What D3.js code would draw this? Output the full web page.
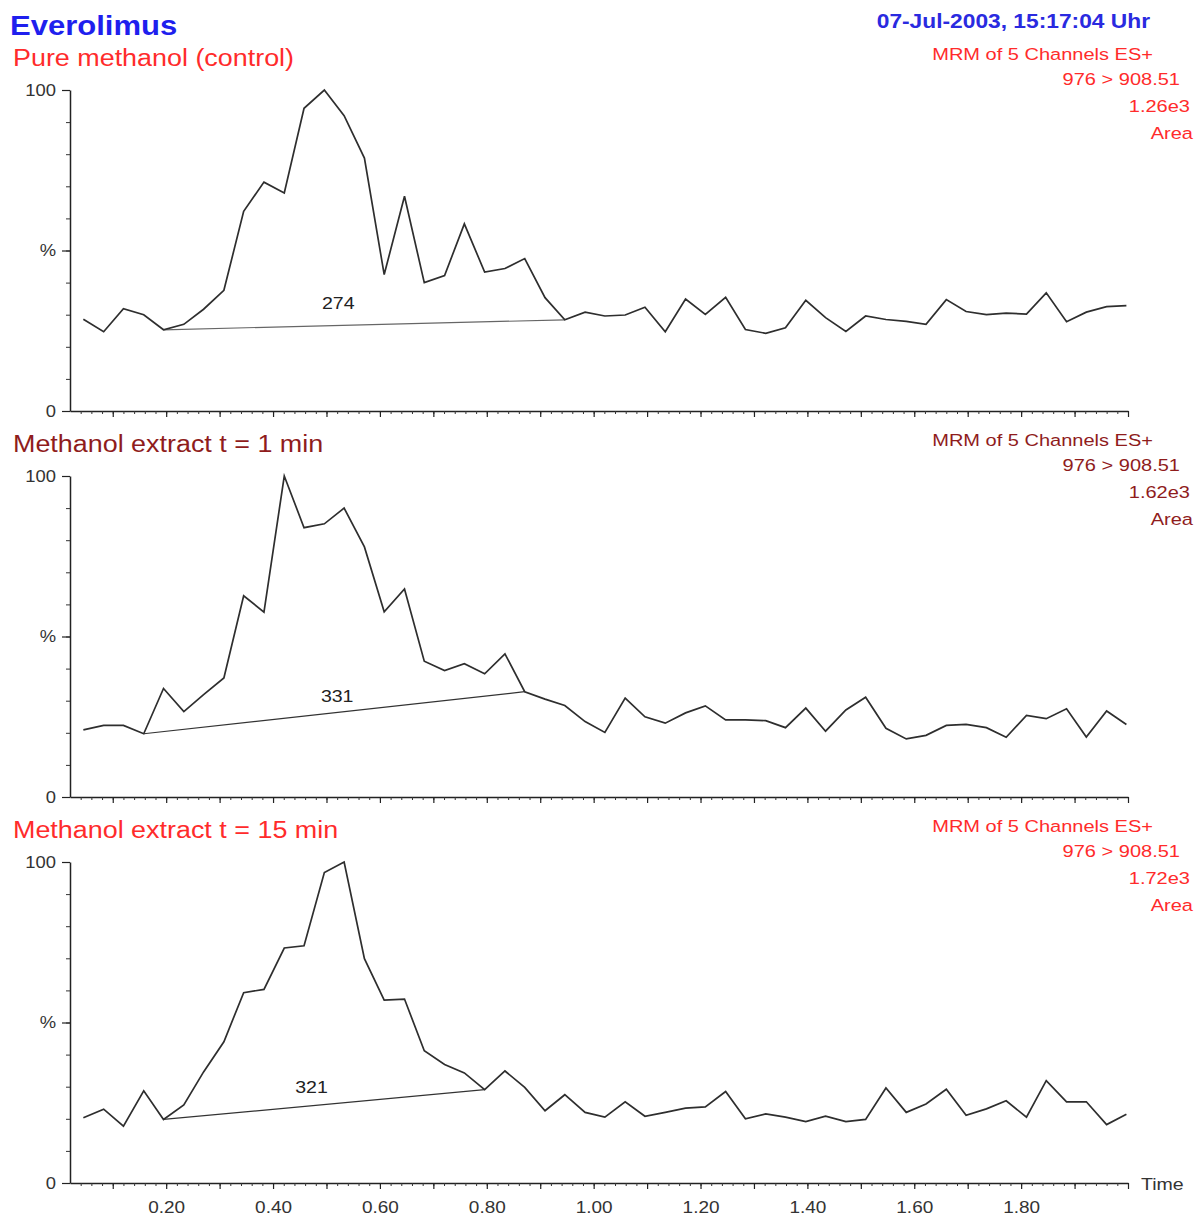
<!DOCTYPE html>
<html lang="de">
<head>
<meta charset="UTF-8" />
<title>Everolimus MRM</title>
<script src="https://cdnjs.cloudflare.com/ajax/libs/d3/7.8.5/d3.min.js"></script>
<style>
  * { margin: 0; padding: 0; }
  body { background: #fff; }
  svg { display: block; font-family: 'Liberation Sans', Arial, sans-serif; }
</style>
</head>
<body>
<svg id="chart" width="1197" height="1216"></svg>
<script>
  // retention times (min), one scan per point
  const times = [0.045, 0.083, 0.120, 0.158, 0.195, 0.233, 0.270, 0.308, 0.345, 0.383,
    0.421, 0.458, 0.496, 0.533, 0.571, 0.608, 0.646, 0.683, 0.721, 0.758,
    0.796, 0.834, 0.871, 0.909, 0.946, 0.984, 1.021, 1.059, 1.096, 1.134,
    1.172, 1.209, 1.247, 1.284, 1.322, 1.359, 1.397, 1.434, 1.472, 1.509,
    1.547, 1.585, 1.622, 1.660, 1.697, 1.735, 1.772, 1.810, 1.847, 1.885,
    1.922, 1.960, 1.997];

  // relative intensity (%) per trace
  const controlPct = [28.6, 24.7, 31.9, 30.0, 25.3, 27.0, 31.7, 37.6, 62.2, 71.3,
    67.9, 94.3, 100, 92.0, 78.8, 42.5, 66.9, 40.0, 42.2, 58.3,
    43.3, 44.4, 47.5, 35.3, 28.4, 30.8, 29.6, 29.9, 32.3, 24.7,
    34.9, 30.1, 35.4, 25.4, 24.2, 25.9, 34.5, 29.1, 24.8, 29.6,
    28.5, 27.9, 27.0, 34.7, 31.0, 30.0, 30.5, 30.2, 36.8, 27.8,
    30.8, 32.5, 32.8];
  const min1Pct = [20.9, 22.3, 22.3, 19.7, 33.8, 26.6, 31.9, 37.1, 62.7, 57.6,
    100, 83.9, 85.1, 90.0, 77.9, 57.7, 64.8, 42.3, 39.4, 41.5,
    38.4, 44.6, 32.8, 30.5, 28.5, 23.5, 20.1, 30.8, 25.0, 23.0,
    26.2, 28.4, 24.0, 24.0, 23.8, 21.6, 27.7, 20.5, 27.1, 31.1,
    21.4, 18.1, 19.2, 22.3, 22.6, 21.6, 18.6, 25.4, 24.4, 27.5,
    18.7, 26.8, 22.6];
  const min15Pct = [20.3, 23.0, 17.7, 28.7, 19.8, 24.3, 34.6, 44.0, 59.3, 60.3,
    73.2, 73.9, 96.7, 100, 69.9, 57.0, 57.3, 41.2, 36.9, 34.3,
    29.1, 34.9, 29.8, 22.5, 27.5, 22.0, 20.5, 25.3, 20.8, 22.0,
    23.3, 23.7, 28.5, 20.0, 21.5, 20.5, 19.1, 20.8, 19.1, 19.8,
    29.6, 22.0, 24.6, 29.2, 21.1, 23.1, 25.6, 20.5, 31.9, 25.3,
    25.3, 18.2, 21.4];

  const panelTitles = ["Pure methanol (control)", "Methanol extract t = 1 min", "Methanol extract t = 15 min"];
  const titleColors = ["#ff2b2b", "#8f1c1c", "#ff2b2b"];
  const channelLines = ["MRM of 5 Channels ES+", "976 > 908.51"];
  const maxCounts = ["1.26e3", "1.62e3", "1.72e3"];
  const peakAreas = ["274", "331", "321"];
  const peakStart = [4, 3, 4];     // scan index where integration starts
  const peakEnd = [24, 22, 20];    // scan index where integration ends
  const areaLabelTime = [0.522, 0.520, 0.472];
  const areaLabelPct = [31.8, 29.6, 28.0];
  const xLabelTicks = [0.2, 0.4, 0.6, 0.8, 1.0, 1.2, 1.4, 1.6, 1.8];
  const xLabelText = ["0.20", "0.40", "0.60", "0.80", "1.00", "1.20", "1.40", "1.60", "1.80"];
  const yLabelTicks = [0, 50, 100];
  const yLabelText = ["0", "%", "100"];

  const traces = [controlPct, min1Pct, min15Pct];

  const SX = 1.15;      // the printout is a bit wide, stretch text to match
  const STEP = 386;     // vertical distance between panels
  const svg = d3.select("#chart");

  const x = d3.scaleLinear().domain([0.02, 2.0]).range([70, 1128]);

  function label(g, px, py, str, size, color, anchor, weight) {
    return g.append("text")
      .attr("transform", `translate(${px},${py}) scale(${SX},1)`)
      .attr("font-size", size)
      .attr("fill", color)
      .attr("text-anchor", anchor || "start")
      .attr("font-weight", weight || "normal")
      .text(str);
  }

  // stretch axis tick labels around their own anchor
  function stretchTicks(sel) {
    sel.selectAll(".tick text").each(function() {
      const t = d3.select(this);
      const tx = +t.attr("x") || 0, ty = +t.attr("y") || 0;
      t.attr("x", 0).attr("y", 0).attr("transform", `translate(${tx},${ty}) scale(${SX},1)`);
    });
  }

  // header
  label(svg, 10, 35, "Everolimus", 27, "#1f1fee", "start", "bold");
  label(svg, 1150, 28, "07-Jul-2003, 15:17:04 Uhr", 19.8, "#2a2ae0", "end", "bold");

  traces.forEach((pct, k) => {
    const off = STEP * k;
    const g = svg.append("g");
    const y = d3.scaleLinear().domain([0, 100]).range([411 + off, 90 + off]);

    label(g, 13, 66 + off, panelTitles[k], 23.4, titleColors[k]);
    label(g, 1153, 60 + off, channelLines[0], 17.4, titleColors[k], "end");
    label(g, 1180, 85 + off, channelLines[1], 17.4, titleColors[k], "end");
    label(g, 1190, 112 + off, maxCounts[k], 17.4, titleColors[k], "end");
    label(g, 1193, 139 + off, "Area", 17.4, titleColors[k], "end");

    // x axis: minor every 0.02, major every 0.1
    g.append("g")
      .attr("transform", `translate(0,${y(0)})`)
      .call(d3.axisBottom(x).tickValues(d3.range(0.04, 2.0001, 0.02)).tickSize(3).tickSizeOuter(0).tickFormat(""))
      .call(a => a.selectAll("line").attr("stroke", "#333"))
      .call(a => a.select(".domain").attr("stroke", "#222").attr("stroke-width", 1.5));
    const major = g.append("g")
      .attr("transform", `translate(0,${y(0)})`)
      .call(d3.axisBottom(x).tickValues(d3.range(0.1, 2.0001, 0.1)).tickSize(6).tickSizeOuter(0).tickFormat(""));
    major.select(".domain").remove();
    major.selectAll("line").attr("stroke", "#222").attr("stroke-width", 1.2);

    if (k === traces.length - 1) {
      const lab = g.append("g")
        .attr("transform", `translate(0,${y(0)})`)
        .call(d3.axisBottom(x).tickValues(xLabelTicks).tickSize(0).tickPadding(18)
          .tickFormat((d, i) => xLabelText[i]));
      lab.select(".domain").remove();
      lab.selectAll("text").attr("font-size", 16.5).attr("fill", "#333")
        .attr("font-family", "'Liberation Sans', Arial, sans-serif");
      stretchTicks(lab);
      label(g, 1141, y(0) + 7, "Time", 17, "#333");
    }

    // y axis
    g.append("g")
      .attr("transform", `translate(${x(0.02)},0)`)
      .call(d3.axisLeft(y).tickValues(d3.range(0, 101, 10)).tickSize(4).tickSizeOuter(0).tickFormat(""))
      .call(a => a.selectAll("line").attr("stroke", "#333"))
      .call(a => a.select(".domain").attr("stroke", "#222").attr("stroke-width", 1.5));
    const ylab = g.append("g")
      .attr("transform", `translate(${x(0.02)},0)`)
      .call(d3.axisLeft(y).tickValues(yLabelTicks).tickSize(8).tickPadding(6)
        .tickFormat((d, i) => yLabelText[i]));
    ylab.select(".domain").remove();
    ylab.selectAll("line").attr("stroke", "#222").attr("stroke-width", 1.2);
    ylab.selectAll("text").attr("font-size", 16).attr("fill", "#333")
      .attr("font-family", "'Liberation Sans', Arial, sans-serif");
    stretchTicks(ylab);

    // integration baseline
    const s = peakStart[k], e = peakEnd[k];
    g.append("line")
      .attr("x1", x(times[s])).attr("y1", y(pct[s]))
      .attr("x2", x(times[e])).attr("y2", y(pct[e]))
      .attr("stroke", k === 0 ? "#666" : "#333").attr("stroke-width", 1.2);

    // chromatogram trace
    const line = d3.line().x((d, i) => x(times[i])).y(d => y(d));
    g.append("path")
      .datum(pct)
      .attr("d", line)
      .attr("fill", "none")
      .attr("stroke", "#2e2e2e")
      .attr("stroke-width", 1.7)
      .attr("stroke-linejoin", "miter");

    label(g, x(areaLabelTime[k]), y(areaLabelPct[k]), peakAreas[k], 17, "#222", "middle");
  });
</script>
</body>
</html>
